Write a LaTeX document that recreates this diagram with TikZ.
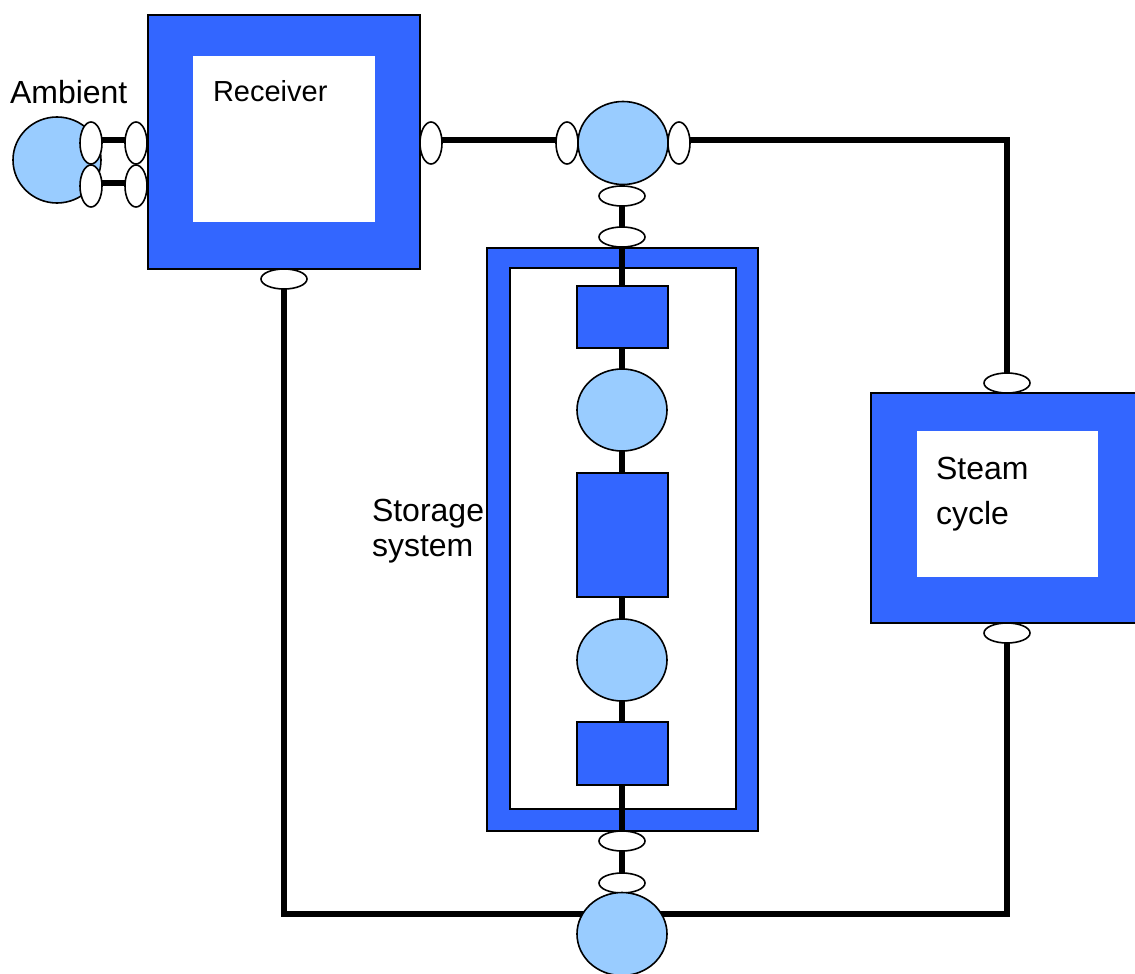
\documentclass[tikz,border=0pt]{standalone}
\usepackage{fontspec}
\setmainfont{Liberation Sans}
\usetikzlibrary{shapes.geometric}
\definecolor{unitblue}{HTML}{3366FF}
\definecolor{mixblue}{HTML}{99CCFF}
\pgfdeclarelayer{frames}
\pgfdeclarelayer{wires}
\pgfsetlayers{frames,wires,main}
\tikzset{
  unit/.style={rectangle, draw=black, line width=1.6pt, fill=unitblue, inner sep=0pt, outer sep=0pt},
  window/.style={rectangle, fill=white, inner sep=0pt, outer sep=0pt},
  block/.style={rectangle, draw=black, line width=1.6pt, fill=unitblue, inner sep=0pt, outer sep=0pt,
                minimum width=91pt},
  mixer/.style={ellipse, draw=black, line width=1.6pt, fill=mixblue, inner sep=0pt, outer sep=0pt,
                minimum width=90pt, minimum height=83pt},
  vport/.style={ellipse, draw=black, line width=1.6pt, fill=white, inner sep=0pt, outer sep=0pt,
                minimum width=22pt, minimum height=42pt},
  hport/.style={ellipse, draw=black, line width=1.6pt, fill=white, inner sep=0pt, outer sep=0pt,
                minimum width=46pt, minimum height=20pt},
  pipe/.style={draw=black, line width=5.5pt},
  label/.style={inner sep=0pt, outer sep=0pt, font=\fontsize{32}{36}\selectfont},
  smalllabel/.style={inner sep=0pt, outer sep=0pt, font=\fontsize{29}{34}\selectfont},
}
\begin{document}
\begin{tikzpicture}[x=1pt, y=-1pt]
\useasboundingbox (0,0) rectangle (1135,974);

% ---- frames of the three units ----
\begin{pgfonlayer}{frames}
  \node[unit, minimum width=272pt, minimum height=254pt] (receiver) at (284,142) {};
  \node[window, minimum width=182pt, minimum height=166pt] (receiverwin) at (284,139) {};
  \node[unit, minimum width=274pt, minimum height=230pt] (steam) at (1008,508) {};
  \node[window, minimum width=181pt, minimum height=146pt] (steamwin) at (1007.5,504) {};
  \node[unit, minimum width=271pt, minimum height=583pt] (storage) at (622.5,539.5) {};
  \node[window, draw=black, line width=1.6pt, minimum width=226pt, minimum height=541pt] (storagewin) at (623,538.5) {};
\end{pgfonlayer}

% ---- labels ----
\node[label, anchor=base west] (ambientlbl) at (10,103) {Ambient};
\node[smalllabel, anchor=base west] (receiverlbl) at (213,101) {Receiver};
\node[label, anchor=base west] (storagelbl) at (372,521) {Storage};
\node[label, anchor=base west] (storagelbl2) at (372,556) {system};
\node[label, anchor=base west] (steamlbl) at (936,479) {Steam};
\node[label, anchor=base west] (steamlbl2) at (936,524) {cycle};

% ---- ambient side ----
\node[mixer, minimum width=88pt, minimum height=86pt] (ambient) at (57,160) {};
\node[vport] (a1) at (91,143) {};
\node[vport] (a2) at (91,186) {};
\node[vport] (r1) at (136,143) {};
\node[vport] (r2) at (136,186) {};

% ---- receiver ports ----
\node[vport] (r3) at (431,143) {};
\node[hport] (rb) at (284,279) {};

% ---- upper mixer ----
\node[vport] (m1) at (567,143) {};
\node[mixer] (topmix) at (623,143) {};
\node[vport] (m2) at (679,143) {};
\node[hport] (m3) at (622,196) {};
\node[hport] (m4) at (622,237) {};

% ---- storage column ----
\node[block, minimum height=62pt] (b1) at (622.5,317) {};
\node[mixer, minimum height=82pt] (c1) at (622,410) {};
\node[block, minimum height=124pt] (b2) at (622.5,535) {};
\node[mixer, minimum height=82pt] (c2) at (622,660) {};
\node[block, minimum height=63pt] (b3) at (622.5,753.5) {};

% ---- lower mixer ----
\node[hport] (s1) at (622,841) {};
\node[hport] (s2) at (622,883) {};
\node[mixer] (botmix) at (622,934) {};
\coordinate (botline) at (622,914);

% ---- steam cycle ports ----
\node[hport] (t1) at (1007,383) {};
\node[hport] (t2) at (1007,633) {};

% ---- piping ----
\begin{pgfonlayer}{wires}
  \draw[pipe] ([yshift=3pt]a1.center) -- ([yshift=3pt]r1.center);
  \draw[pipe] ([yshift=3pt]a2.center) -- ([yshift=3pt]r2.center);
  \draw[pipe] ([yshift=3pt]r3.center) -- ([yshift=3pt]m1.center);
  \draw[pipe] ([yshift=3pt]m2.center) -| (t1);
  \draw[pipe] (topmix) -- (m3);
  \draw[pipe] (m3) -- (m4);
  \draw[pipe] (m4.center) -- (s1.center);
  \draw[pipe] (s1) -- (s2);
  \draw[pipe] (s2) -- (botmix);
  \draw[pipe] (rb) |- (botline) -| (t2);
\end{pgfonlayer}
\end{tikzpicture}
\end{document}
